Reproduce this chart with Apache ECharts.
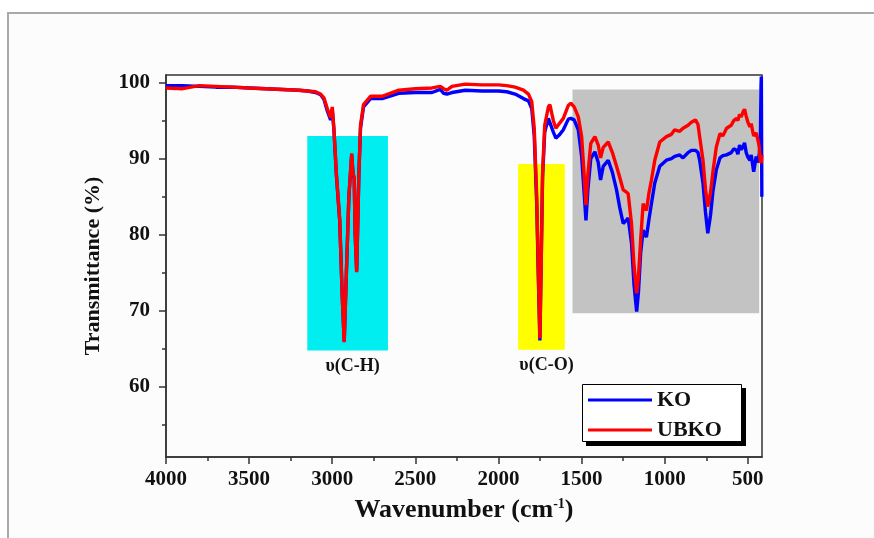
<!DOCTYPE html>
<html><head><meta charset="utf-8">
<script src="https://cdn.jsdelivr.net/npm/echarts@6/dist/echarts.min.js"></script>
<style>html,body{margin:0;padding:0;background:#fff}#c{width:874px;height:538px}</style>
</head><body><div id="c"></div>
<script>
// ---- data ----
const wavenumbers = [4000,3900,3800,3700,3600,3500,3400,3300,3200,3150,3100,3070,3050,3030,3010,3000,2990,2975,2955,2940,2928,2915,2900,2883,2875,2868,2862,2853,2840,2830,2812,2770,2700,2600,2500,2400,2350,2330,2310,2280,2200,2100,2000,1950,1900,1850,1820,1800,1785,1770,1760,1751,1742,1735,1722,1700,1691,1670,1655,1635,1610,1580,1565,1545,1520,1500,1485,1474,1462,1445,1420,1400,1386,1370,1340,1315,1290,1270,1250,1235,1220,1200,1185,1169,1158,1145,1130,1120,1110,1095,1080,1060,1030,990,960,940,910,890,860,840,815,800,790,770,755,741,725,709,690,668,650,628,600,585,568,560,550,540,528,520,510,500,488,480,470,465,458,450,440,432,425,421,419,416];
const ko = [99.6,99.6,99.5,99.4,99.4,99.3,99.2,99.1,99.0,98.9,98.7,98.4,97.8,96.3,95.1,96.5,93.8,87.8,81.8,72.0,66.0,75.0,85.0,90.5,88.0,87.4,80.0,75.3,87.8,94.0,96.8,97.9,97.9,98.6,98.7,98.7,99.1,98.6,98.5,98.7,99.0,98.9,98.9,98.8,98.5,97.9,97.6,96.6,93.0,84.0,74.0,66.1,78.0,87.5,93.5,95.3,95.5,93.5,92.7,93.1,93.8,95.2,95.3,95.1,93.8,90.3,85.5,81.9,86.0,90.0,90.9,89.5,87.2,89.0,89.8,88.2,85.9,83.5,81.5,81.8,82.2,78.9,73.5,69.9,72.5,77.6,80.6,80.1,79.7,82.0,84.1,86.8,89.0,89.8,90.0,90.3,90.5,90.1,90.8,91.1,91.1,90.8,89.8,86.8,83.0,80.2,82.5,85.9,88.5,90.1,90.4,90.5,90.8,91.3,91.1,90.6,91.8,91.2,91.6,92.1,90.8,90.2,89.8,90.5,89.0,88.3,88.1,90.3,89.5,90.5,92.0,99.5,100.8,85.0];
const ubko = [99.3,99.2,99.6,99.5,99.4,99.3,99.2,99.1,99.0,98.9,98.8,98.5,98.0,96.6,95.4,96.8,94.0,88.0,82.0,72.0,65.9,75.0,85.0,90.7,88.0,87.6,80.0,75.1,88.0,94.4,97.1,98.2,98.2,99.0,99.2,99.3,99.5,99.2,99.0,99.5,99.8,99.7,99.7,99.6,99.4,99.0,98.5,97.5,94.0,85.0,75.0,66.4,78.0,88.0,94.4,96.8,97.1,95.0,94.0,94.6,95.3,97.0,97.3,96.8,95.5,92.9,88.0,83.9,88.0,92.0,92.9,91.8,90.1,91.5,92.2,90.8,89.0,87.5,85.9,85.7,85.4,81.5,76.0,72.3,74.5,79.3,84.1,83.6,83.2,85.5,87.2,89.8,92.2,92.9,93.2,93.8,93.6,94.0,94.4,94.8,95.1,94.5,92.9,89.8,86.0,83.7,85.5,88.5,91.5,93.3,93.0,94.0,94.4,95.0,95.3,95.0,95.8,95.5,96.2,96.5,95.6,94.8,94.2,94.6,93.5,93.0,92.9,93.4,92.5,91.6,89.5,90.0,89.4,90.5];
const xMajorTicks = [4000,3500,3000,2500,2000,1500,1000,500];
const xMinorTicks = [3750,3250,2750,2250,1750,1250,750];
const yMajorTicks = [60,70,80,90,100];
const yMinorTicks = [55,65,75,85,95];
const bandNames = ['υ(C-H)','υ(C-O)',''];
const bandFrom = [3150,1882,1555];
const bandTo = [2665,1601,432];
const bandHigh = [93.0,89.3,99.1];
const bandLow = [64.8,64.9,69.7];

// ---- styles ----
const bandColors = ['#00eef0','#ffff00','#c3c3c3'];
const FONT = "'Liberation Serif','Times New Roman',serif";

const chart = echarts.init(document.getElementById('c'), null, {renderer:'canvas'});
const xMin = 415, xMax = 4000, yMin = 50.8, yMax = 101;

const baseX = {type:'value', inverse:true, min:xMin, max:xMax, position:'bottom', splitLine:{show:false}};
const baseY = {type:'value', min:yMin, max:yMax, position:'left', splitLine:{show:false}};
const plain = v => String(v);

chart.setOption({
  animation:false,
  backgroundColor:'#ffffff',
  graphic:[
    {type:'rect', shape:{x:8,y:13,width:900,height:600}, style:{fill:'#fcfcfc', stroke:'#a9a9a9', lineWidth:2}, z:-10, silent:true},
    {type:'rect', shape:{x:586,y:388,width:160,height:58}, style:{fill:'#000'}, z:3, silent:true},
    {type:'rect', shape:{x:582.5,y:384.5,width:159,height:57}, style:{fill:'#fff', stroke:'#000', lineWidth:1}, z:3, silent:true}
  ],
  grid:{left:166,right:112,top:75,bottom:81,show:true,borderColor:'#333',borderWidth:1.5,backgroundColor:'transparent'},
  xAxis:[
    Object.assign({}, baseX, {
      axisLine:{show:true,lineStyle:{color:'#333',width:1.5}},
      axisTick:{show:true,customValues:xMajorTicks,length:7,lineStyle:{color:'#333',width:1.5}},
      axisLabel:{customValues:xMajorTicks,formatter:plain,margin:12,color:'#111',fontFamily:FONT,fontWeight:'bold',fontSize:21},
      name:'Wavenumber (cm{sup|-1})', nameLocation:'middle', nameGap:40,
      nameTextStyle:{color:'#111',fontFamily:FONT,fontWeight:'bold',fontSize:26,
        rich:{sup:{fontFamily:FONT,fontWeight:'bold',fontSize:14,verticalAlign:'top',padding:[0,0,12,0]}}}
    }),
    Object.assign({}, baseX, {
      axisLine:{show:false}, axisLabel:{show:false},
      axisTick:{show:true,customValues:xMinorTicks,length:4,lineStyle:{color:'#333',width:1.5}}
    })
  ],
  yAxis:[
    Object.assign({}, baseY, {
      axisLine:{show:true,lineStyle:{color:'#333',width:1.5}},
      axisTick:{show:true,customValues:yMajorTicks,length:7,lineStyle:{color:'#333',width:1.5}},
      axisLabel:{customValues:yMajorTicks,formatter:plain,margin:16,color:'#111',fontFamily:FONT,fontWeight:'bold',fontSize:21},
      name:'Transmittance (%)', nameLocation:'middle', nameGap:62, nameRotate:90,
      nameTextStyle:{color:'#111',fontFamily:FONT,fontWeight:'bold',fontSize:22}
    }),
    Object.assign({}, baseY, {
      axisLine:{show:false}, axisLabel:{show:false},
      axisTick:{show:true,customValues:yMinorTicks,length:4,lineStyle:{color:'#333',width:1.5}}
    })
  ],
  legend:{
    data:['KO','UBKO'], orient:'vertical', left:582, top:384, z:5,
    icon:'rect', itemWidth:64, itemHeight:3, itemGap:8,
    padding:[5,26,4,6],
    textStyle:{color:'#111',fontFamily:FONT,fontWeight:'bold',fontSize:22,lineHeight:22}
  },
  series:[
    {
      type:'line', name:'bands', data:[], z:1, silent:true,
      markArea:{silent:true,
        data: bandFrom.map((f,i)=>[
          {name:bandNames[i], xAxis:f, yAxis:bandHigh[i], itemStyle:{color:bandColors[i],opacity:1},
           label:{show:bandNames[i]!=='', position:'bottom', distance:7, offset:[5,0], color:'#111',
             fontFamily:FONT, fontWeight:'bold', fontSize:18}},
          {xAxis:bandTo[i], yAxis:bandLow[i]}
        ])
      }
    },
    {
      type:'line', name:'KO', z:3, showSymbol:false, symbol:'none',
      data: wavenumbers.map((w,i)=>[w,ko[i]]),
      lineStyle:{color:'#0000ff',width:3.4}, itemStyle:{color:'#0000ff'}
    },
    {
      type:'line', name:'UBKO', z:4, showSymbol:false, symbol:'none',
      data: wavenumbers.map((w,i)=>[w,ubko[i]]),
      lineStyle:{color:'#ff0000',width:3.4}, itemStyle:{color:'#ff0000'}
    }
  ]
});
</script></body></html>
